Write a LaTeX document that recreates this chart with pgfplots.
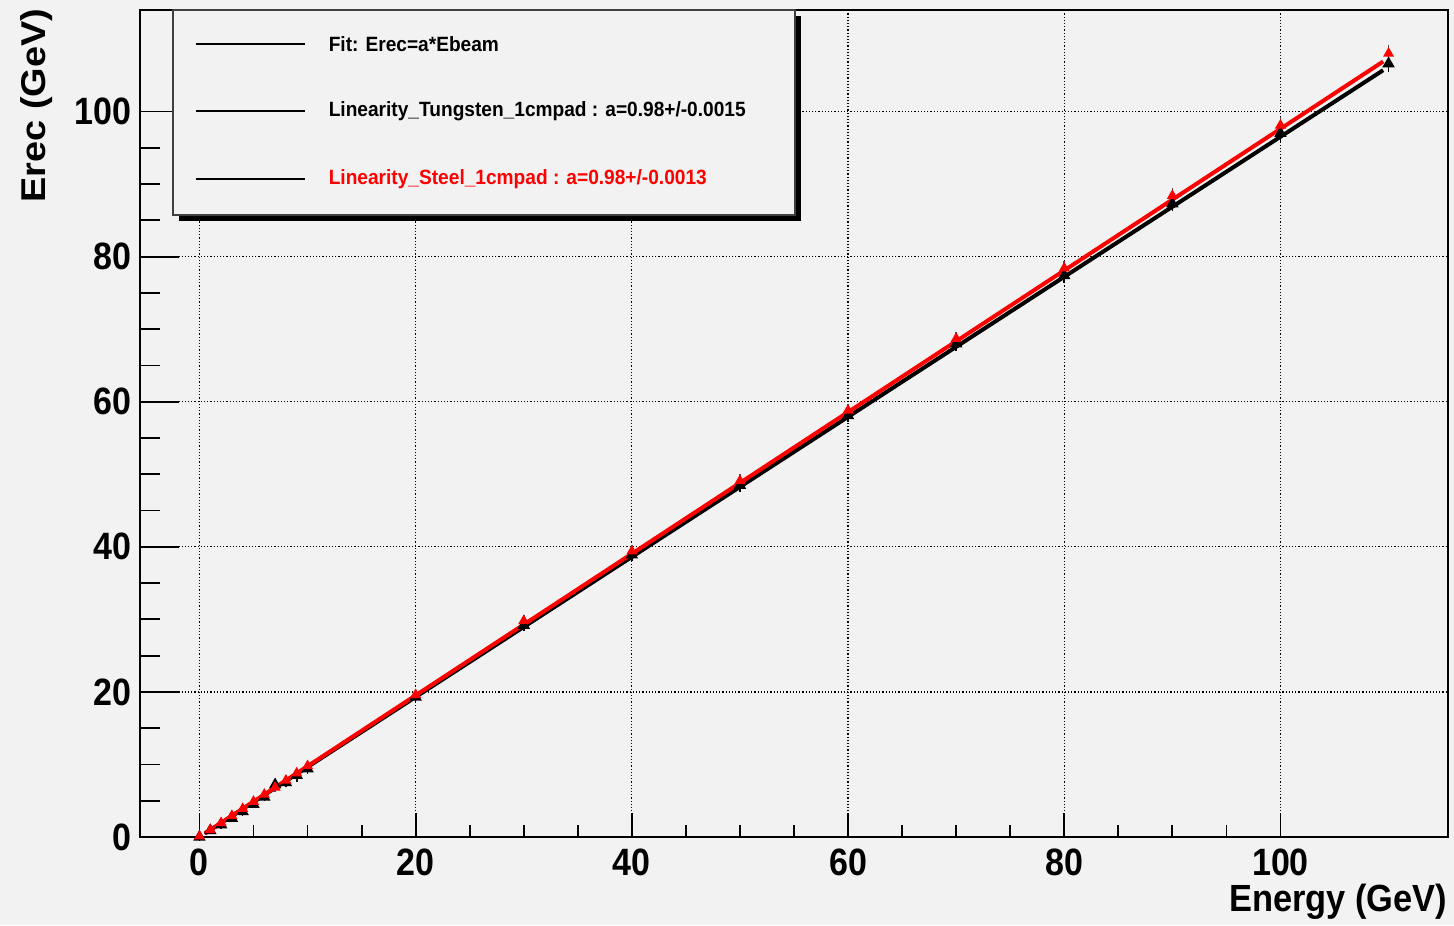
\documentclass[border=0pt]{standalone}
\usepackage{pgfplots}
\usepackage{pgfplotstable}
\pgfplotsset{compat=1.18}
\usepackage{fontspec}
\setmainfont{Liberation Sans}
\definecolor{bg}{RGB}{242,242,242}
\definecolor{rootred}{RGB}{255,0,0}

\pgfplotstableread{
E Y err
0 0.0 0.05
1 0.9 0.08
2 1.7 0.1
3 2.6 0.1
4 3.5 0.12
5 4.5 0.12
6 5.5 0.15
7 7.2 0.2
8 7.5 0.2
9 8.5 0.5
10 9.4 0.25
20 19.3 0.3
30 29.2 0.35
40 38.9 0.4
50 48.5 0.45
60 58.1 0.5
70 68.0 0.5
80 77.4 0.55
90 87.3 0.6
100 97.0 0.65
110 106.6 0.7
}\tabW

\pgfplotstableread{
E Y err
0 0.1 0.05
1 0.97 0.08
2 1.95 0.1
3 2.93 0.1
4 3.9 0.12
5 4.88 0.12
6 5.86 0.15
7 6.85 0.15
8 7.8 0.2
9 8.8 0.2
10 9.8 0.25
20 19.6 0.3
30 29.8 0.35
40 39.4 0.4
50 49.1 0.45
60 58.8 0.5
70 68.7 0.5
80 78.4 0.55
90 88.4 0.6
100 98.1 0.7
110 108.0 0.8
}\tabS

\pgfplotsset{rootaxis/.style={
  scale only axis, width=327pt, height=206.75pt,
  xmin=-5.5, xmax=115.5, ymin=0, ymax=114,
  axis line style={black, line width=0.5pt},
  tick align=inside, xtick pos=left, ytick pos=left,
  tick style={black, line width=0.45pt},
  grid style={black, line width=0.3pt, dash pattern=on 0.3pt off 0.5pt},
  tick label style={font=\bfseries\fontsize{8.5}{8.5}\selectfont, inner sep=0pt},
  /pgf/number format/assume math mode=true,
}}

\begin{document}
\begin{tikzpicture}
\fill[bg] (-35pt,-22pt) rectangle (328.5pt,209.25pt);
\path[use as bounding box] (-35pt,-22pt) rectangle (328.5pt,209.25pt);

% y ticks, y grid, y label
\begin{axis}[rootaxis,
  xtick=\empty,
  ytick={0,20,40,60,80,100}, minor y tick num=3,
  ymajorgrids,
  major tick length=9.75pt, minor tick length=4.9pt,
  yticklabel style={anchor=east, xshift=-2pt, yscale=1.12},
  ylabel={Erec (GeV)},
  ylabel style={at={(axis description cs:-0.0719,1.0024)}, anchor=base east, inner sep=0pt,
    font=\bfseries\fontsize{8.6}{8.6}\selectfont, xscale=1.1},
]
\end{axis}

% x ticks, x grid, data
\begin{axis}[rootaxis,
  ytick=\empty,
  xtick={0,20,40,60,80,100}, minor x tick num=3,
  xmajorgrids,
  major tick length=6pt, minor tick length=3pt,
  xticklabel style={anchor=center, yshift=-6.25pt, yscale=1.12},
  xlabel={Energy (GeV)},
  xlabel style={at={(axis description cs:1,-0.0786)}, anchor=east, inner sep=0pt,
    font=\bfseries\fontsize{8.6}{8.6}\selectfont, yscale=1.1},
  clip=false,
]
\addplot[only marks, black, mark=triangle*, mark size=1.4pt,
  error bars/.cd, y dir=both, y explicit,
  error bar style={line width=0.4pt},
  error mark options={mark size=0.8pt, line width=0.4pt}]
  table[x=E, y=Y, y error=err] {\tabW};
\addplot[black, line width=1pt, no marks] coordinates {(0.5,0.48) (109.5,105.7)};
\addplot[only marks, rootred, mark=triangle*, mark size=1.2pt,
  error bars/.cd, y dir=both, y explicit,
  error bar style={line width=0.4pt, black!70},
  error mark options={mark size=0.8pt, line width=0.4pt, black!70}]
  table[x=E, y=Y, y error=err] {\tabS};
\addplot[rootred, line width=1pt, no marks] coordinates {(0.5,0.49) (109.5,106.9)};
\end{axis}

% legend (ROOT style box with shadow)
\begin{scope}[shift={(-35pt,209.25pt)}, x=0.25pt, y=-0.25pt]
\fill[black] (179,16) rectangle (801,221);
\filldraw[fill=bg, draw=black!75, line width=0.3pt] (173,10) rectangle (795,215);
\draw[black, line width=0.4pt] (196,44) -- (305,44);
\draw[black, line width=0.4pt] (196,111) -- (305,111);
\draw[black, line width=0.4pt] (196,179) -- (305,179);
\node[anchor=west, inner sep=0pt, font=\bfseries\fontsize{4.78}{4.78}\selectfont, yscale=1.08] at (328,44) {Fit: Erec=a*Ebeam};
\node[anchor=west, inner sep=0pt, font=\bfseries\fontsize{4.78}{4.78}\selectfont, yscale=1.08] at (328,111) {Linearity\_Tungsten\_1cmpad : a=0.98+/-0.0015};
\node[anchor=west, inner sep=0pt, font=\bfseries\fontsize{4.78}{4.78}\selectfont, yscale=1.08, text=rootred] at (328,179) {Linearity\_Steel\_1cmpad : a=0.98+/-0.0013};
\end{scope}
\end{tikzpicture}
\end{document}
